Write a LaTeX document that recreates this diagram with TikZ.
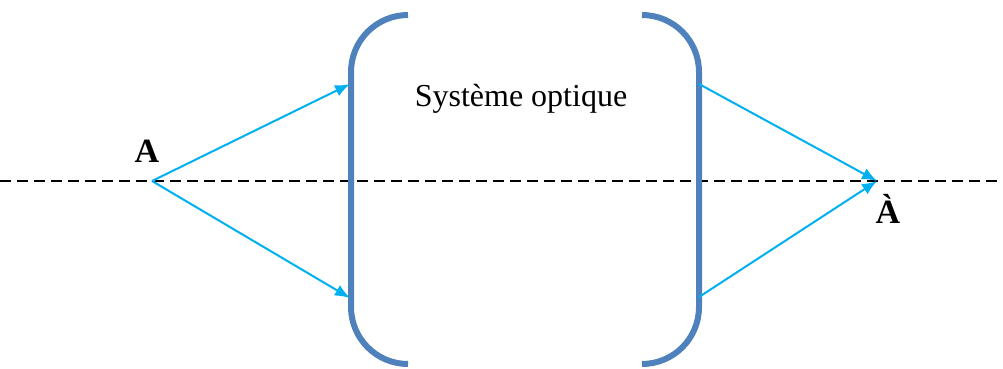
\documentclass[tikz,border=0pt]{standalone}
\usepackage{fontspec}
\setmainfont{Liberation Serif}
\usetikzlibrary{arrows.meta}
\definecolor{bracketblue}{HTML}{4F81BD}
\definecolor{raycyan}{HTML}{00B0F0}
\tikzset{
  lensbracket/.style={draw=bracketblue, line width=6pt, line cap=butt},
  ray/.style={draw=raycyan, line width=2pt, -{Latex[length=15pt,width=12pt]}},
  axis/.style={draw=black, line width=2pt, dash pattern=on 11pt off 6pt},
  pointlabel/.style={font=\bfseries\fontsize{34}{40}\selectfont, anchor=base, inner sep=0pt},
}
\begin{document}
\begin{tikzpicture}[x=1pt,y=-1pt]
  \useasboundingbox (0,0) rectangle (1003,369);

  % optical axis
  \coordinate (axL) at (0,181);
  \coordinate (axR) at (1003,181);
  \draw[axis] (axL) -- (axR);

  % the optical system, drawn as a pair of round brackets
  \draw[lensbracket] (408,15) .. controls (376.5,15) and (351,40.5) .. (351,72)
        -- (351,307) .. controls (351,338.5) and (376.5,364) .. (408,364);
  \draw[lensbracket] (642,15) .. controls (673.5,15) and (699,40.5) .. (699,72)
        -- (699,307) .. controls (699,338.5) and (673.5,364) .. (642,364);

  \node[anchor=base, inner sep=0pt, font=\fontsize{32}{38}\selectfont] (sys) at (521,106) {Système optique};

  % object point, image point and where the rays meet the system
  \coordinate (A) at (152,181);
  \coordinate (Ai) at (877,181);
  \coordinate (inTop) at (350,84);
  \coordinate (inBot) at (350,298);
  \coordinate (outTop) at (699,84);
  \coordinate (outBot) at (699,297);

  \draw[ray] (A) -- (inTop);
  \draw[ray] (A) -- (inBot);
  \draw[ray] (outTop) -- (Ai);
  \draw[ray] (outBot) -- (Ai);

  \node[pointlabel] (labA) at (147,162) {A};
  \node[pointlabel] (labAi) at (888,223) {À};
\end{tikzpicture}
\end{document}
